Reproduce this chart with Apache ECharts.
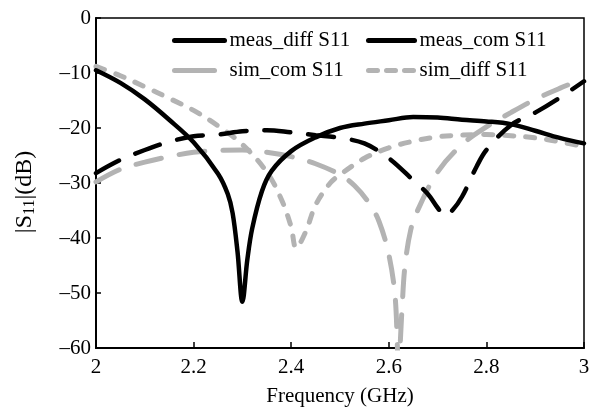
<!DOCTYPE html>
<html>
<head>
<meta charset="utf-8">
<script src="https://cdn.jsdelivr.net/npm/echarts@6/dist/echarts.min.js"></script>
<style>
  html, body { margin: 0; padding: 0; background: #fff; }
  #chart { width: 598px; height: 408px; }
</style>
</head>
<body>
<div id="chart"></div>
<script>
// 读图得到的数据 (GHz, dB)
var freqMeasDiff = [2.00, 2.05, 2.10, 2.15, 2.20, 2.25, 2.27, 2.28, 2.29, 2.30, 2.31, 2.32, 2.34, 2.36, 2.40, 2.45, 2.50, 2.55, 2.60, 2.65, 2.70, 2.75, 2.80, 2.85, 2.90, 2.95, 3.00];
var dbMeasDiff   = [-9.5, -11.8, -14.8, -18.5, -22.6, -28.3, -32, -35.5, -42.5, -51.6, -44, -38.3, -31.5, -27.8, -24.2, -21.7, -20.0, -19.2, -18.6, -18.0, -18.1, -18.5, -18.8, -19.3, -20.5, -21.8, -22.8];

var freqMeasCom = [2.00, 2.05, 2.10, 2.15, 2.20, 2.25, 2.30, 2.35, 2.40, 2.45, 2.50, 2.55, 2.60, 2.65, 2.68, 2.70, 2.715, 2.73, 2.75, 2.78, 2.80, 2.85, 2.90, 2.95, 3.00];
var dbMeasCom   = [-28.2, -25.8, -24.0, -22.5, -21.5, -21.2, -20.6, -20.4, -20.8, -21.3, -21.8, -22.8, -25.5, -29.5, -32, -34.5, -36, -35, -32.5, -27, -24, -19.5, -17.2, -14.5, -11.5];

var freqSimCom = [2.00, 2.05, 2.10, 2.15, 2.20, 2.25, 2.30, 2.35, 2.40, 2.45, 2.50, 2.53, 2.56, 2.58, 2.60, 2.613, 2.62, 2.627, 2.633, 2.645, 2.66, 2.70, 2.75, 2.80, 2.85, 2.90, 2.95, 3.00];
var dbSimCom   = [-29.8, -27.5, -26.2, -25.2, -24.4, -24.1, -24.0, -24.4, -25.2, -26.5, -28.5, -30.5, -33.7, -37, -43, -50.7, -63, -53, -45.2, -38.5, -34.8, -28, -23, -19.8, -17.2, -14.8, -12.8, -11];

var freqSimDiff = [2.00, 2.05, 2.10, 2.15, 2.20, 2.25, 2.30, 2.35, 2.38, 2.40, 2.41, 2.43, 2.45, 2.48, 2.50, 2.55, 2.60, 2.65, 2.70, 2.75, 2.80, 2.85, 2.90, 2.95, 3.00];
var dbSimDiff   = [-8.8, -10.5, -12.5, -14.6, -16.8, -19.6, -23, -28, -33, -38, -41.8, -38.8, -34, -30, -28.5, -25.5, -23.6, -22.4, -21.6, -21.3, -21.2, -21.4, -21.8, -22.5, -23.4];

var seriesNames = ['meas_diff S11', 'meas_com S11', 'sim_com S11', 'sim_diff S11'];
var xTicks = [2, 2.2, 2.4, 2.6, 2.8, 3];
var yTicks = [-60, -50, -40, -30, -20, -10, 0];

function pairs(xs, ys) {
  var out = [];
  for (var i = 0; i < xs.length; i++) {
    out.push([xs[i], ys[i]]);
  }
  return out;
}

var FONT = '"Liberation Serif", "Times New Roman", serif';
var GRAY = '#b3b3b3';

var chart = echarts.init(document.getElementById('chart'), null, { renderer: 'canvas' });

function legendAt(name, left, top, width, lineType) {
  return {
    data: [{ name: name, lineStyle: { type: lineType, width: 5, cap: 'round' } }],
    left: left,
    top: top,
    padding: 0,
    itemWidth: width,
    itemHeight: 14,
    itemStyle: { opacity: 0 },
    textStyle: { fontFamily: FONT, fontSize: 21, color: '#000' },
    selectedMode: false
  };
}

var option = {
  backgroundColor: '#ffffff',
  animation: false,
  grid: {
    left: 96, right: 14, top: 18, bottom: 60,
    outerBoundsMode: 'none',
    containLabel: false,
    show: true, borderColor: '#000', borderWidth: 1.5
  },
  legend: [
    legendAt(seriesNames[0], 172, 30, 50, 'solid'),
    legendAt(seriesNames[1], 366, 30, 46, 'solid'),
    legendAt(seriesNames[2], 172, 60, 50, [40, 60]),
    legendAt(seriesNames[3], 366, 60, 46, [9, 9])
  ],
  xAxis: {
    type: 'value',
    min: xTicks[0],
    max: xTicks[xTicks.length - 1],
    interval: 0.2,
    name: 'Frequency (GHz)',
    nameLocation: 'middle',
    nameGap: 38,
    nameTextStyle: { fontFamily: FONT, fontSize: 21, color: '#000' },
    axisLine: { onZero: false, lineStyle: { color: '#000', width: 2 } },
    axisTick: { inside: true, length: 6, lineStyle: { color: '#000', width: 1.5 } },
    axisLabel: {
      fontFamily: FONT, fontSize: 21, color: '#000', margin: 9,
      formatter: function (v) { return String(+v.toFixed(1)); }
    },
    splitLine: { show: false }
  },
  yAxis: {
    type: 'value',
    min: yTicks[0],
    max: yTicks[yTicks.length - 1],
    interval: 10,
    name: '|S{sub|11}|(dB)',
    nameLocation: 'middle',
    nameRotate: 90,
    nameGap: 58,
    nameTextStyle: {
      fontFamily: FONT, fontSize: 24, color: '#000',
      padding: [0, 18, 0, 0],
      rich: { sub: { fontFamily: FONT, fontSize: 16, color: '#000', verticalAlign: 'bottom', padding: [10, 0, 0, 0] } }
    },
    axisLine: { onZero: false, lineStyle: { color: '#000', width: 2 } },
    axisTick: { inside: true, length: 5, lineStyle: { color: '#000', width: 1.5 } },
    axisLabel: {
      fontFamily: FONT, fontSize: 21, color: '#000', margin: 5,
      formatter: function (v) { return String(v).replace('-', '\u2013'); }
    },
    splitLine: { show: false }
  },
  series: [
    {
      name: seriesNames[2], type: 'line', symbol: 'none', smooth: 0.35,
      lineStyle: { color: GRAY, width: 5, type: [26, 18], cap: 'round' },
      itemStyle: { color: GRAY },
      data: pairs(freqSimCom, dbSimCom)
    },
    {
      name: seriesNames[3], type: 'line', symbol: 'none', smooth: 0.35,
      lineStyle: { color: GRAY, width: 5, type: [9, 12], cap: 'round' },
      itemStyle: { color: GRAY },
      data: pairs(freqSimDiff, dbSimDiff)
    },
    {
      name: seriesNames[0], type: 'line', symbol: 'none', smooth: 0.35,
      lineStyle: { color: '#000', width: 4.5, type: 'solid', cap: 'round' },
      itemStyle: { color: '#000' },
      data: pairs(freqMeasDiff, dbMeasDiff)
    },
    {
      name: seriesNames[1], type: 'line', symbol: 'none', smooth: 0.35,
      lineStyle: { color: '#000', width: 4.5, type: [26, 18], cap: 'round' },
      itemStyle: { color: '#000' },
      data: pairs(freqMeasCom, dbMeasCom)
    }
  ]
};

chart.setOption(option);
</script>
</body>
</html>
